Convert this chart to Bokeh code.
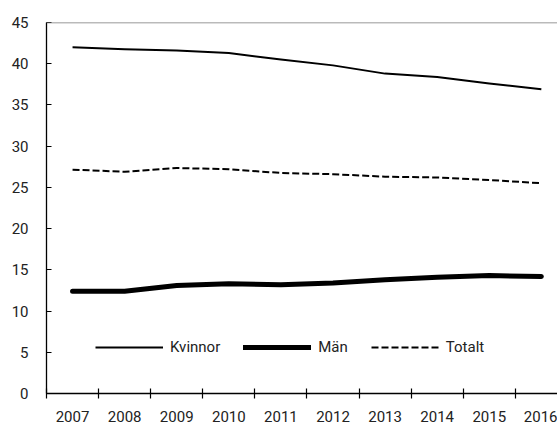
from bokeh.plotting import figure
from bokeh.models import FixedTicker, Span, Legend, LegendItem, Range1d
from bokeh.embed import file_html
from bokeh.resources import INLINE

years = [2007, 2008, 2009, 2010, 2011, 2012, 2013, 2014, 2015, 2016]
kvinnor = [42.0, 41.75, 41.6, 41.3, 40.5, 39.8, 38.8, 38.4, 37.6, 36.9]
man = [12.4, 12.4, 13.1, 13.3, 13.2, 13.4, 13.8, 14.1, 14.3, 14.2]
totalt = [27.15, 26.9, 27.35, 27.2, 26.75, 26.6, 26.3, 26.2, 25.9, 25.5]
y_ticks = [0, 5, 10, 15, 20, 25, 30, 35, 40, 45]
labels = ["Kvinnor", "Män", "Totalt"]

FONT = "Roboto"
TXT = "#222222"

p = figure(width=557, height=424, output_backend="svg", toolbar_location=None,
           x_range=Range1d(years[0] - 0.5, years[-1] + 0.31),
           y_range=Range1d(y_ticks[0], y_ticks[-1]),
           min_border_left=46, min_border_right=0, min_border_top=22, min_border_bottom=0)

p.outline_line_color = None
p.xgrid.visible = False
p.ygrid.visible = False
p.background_fill_color = "white"
p.border_fill_color = "white"

r1 = p.line(years, kvinnor, line_color="black", line_width=2, line_join="round")
r2 = p.line(years, man, line_color="black", line_width=5, line_join="round", line_cap="round")
r3 = p.line(years, totalt, line_color="black", line_width=2, line_dash="7 3")

top = Span(location=y_ticks[-1], dimension="width", line_color="#777777", line_width=1.5)
p.add_layout(top)

xa = p.xaxis[0]
xa.ticker = FixedTicker(ticks=years, minor_ticks=[y - 0.5 for y in years])
xa.axis_line_color = "black"
xa.axis_line_width = 1.3
xa.major_tick_in = 0
xa.major_tick_out = 0
xa.minor_tick_in = 5
xa.minor_tick_out = 5
xa.minor_tick_line_color = "black"
xa.minor_tick_line_width = 1.2
xa.major_label_standoff = 12
xa.major_label_text_font = FONT
xa.major_label_text_font_size = "15px"
xa.major_label_text_color = TXT

ya = p.yaxis[0]
ya.ticker = FixedTicker(ticks=y_ticks)
ya.axis_line_color = "black"
ya.axis_line_width = 1.3
ya.major_tick_in = 5
ya.major_tick_out = 0
ya.major_tick_line_color = "black"
ya.major_tick_line_width = 1.2
ya.minor_tick_line_color = None
ya.major_label_standoff = 18
ya.major_label_text_font = FONT
ya.major_label_text_font_size = "15px"
ya.major_label_text_color = TXT

legend = Legend(items=[LegendItem(label=labels[0], renderers=[r1]),
                       LegendItem(label=labels[1], renderers=[r2]),
                       LegendItem(label=labels[2], renderers=[r3])],
                orientation="horizontal", location=(49, 36),
                glyph_width=68, glyph_height=20, label_height=20,
                label_standoff=7, spacing=23, padding=0, margin=0,
                border_line_color=None, background_fill_alpha=0,
                label_text_font=FONT, label_text_font_size="15px",
                label_text_color=TXT)
p.add_layout(legend, "center")

open("out.html", "w").write(file_html(p, INLINE))
